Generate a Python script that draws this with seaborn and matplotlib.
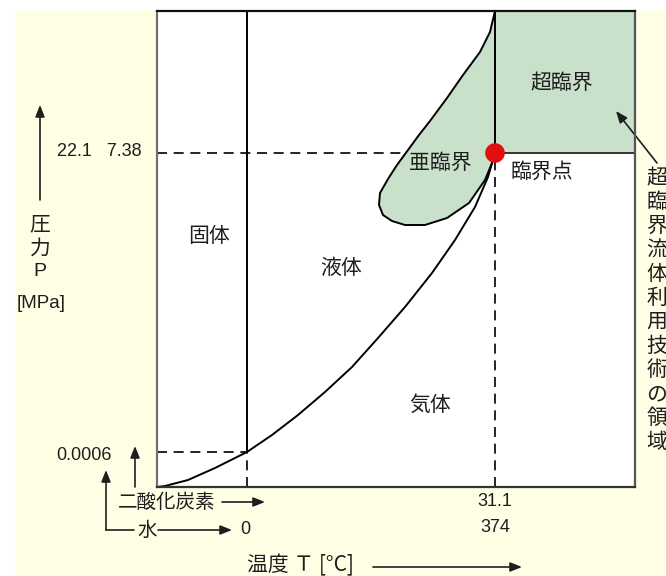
import matplotlib
matplotlib.use("Agg")
import matplotlib.pyplot as plt
from matplotlib.patches import Rectangle
import pandas as pd
import seaborn as sns

W, H = 666, 576

# ---- data (schematic phase diagram, arbitrary plot units) ----
x_range = [0, 478]
y_range = [0, 476]
triple_pt = [90, 35]       # water: 0 degC, 0.0006 MPa
critical_pt = [338, 334]   # CO2 31.1 degC / 7.38 MPa ; water 374 degC / 22.1 MPa

vap_x = [0, 8, 31, 58, 90, 115, 141, 168, 195, 221, 248, 275, 298, 318, 331, 338]
vap_y = [0, 1, 7, 19, 35, 52, 72, 95, 120, 149, 180, 214, 247, 280, 310, 334]

lobe_x = [338, 333, 323, 306, 290, 273, 262, 251, 240, 231, 223, 222, 226, 235, 248, 268,
          290, 312, 328, 335, 338]
lobe_y = [476, 455, 435, 412, 389, 366, 352, 337, 322, 308, 294, 282, 272, 266, 262, 262,
          269, 284, 307, 324, 334]

region_labels = ["固体", "液体", "気体", "亜臨界", "超臨界", "臨界点"]
p_tick_labels = ["22.1   7.38", "0.0006"]
t_tick_labels_co2 = ["31.1"]
t_tick_labels_h2o = ["0", "374"]
substances = ["二酸化炭素", "水"]
y_title = ["圧", "力", "P", "[MPa]"]
x_title = "温度 Ｔ [°C]"
note_text = "超臨界流体利用技術の領域"

# ---- style ----
sns.set_theme(style="white")
plt.rcParams["font.family"] = ["Noto Sans CJK JP", "DejaVu Sans"]

GREEN = "#C9E0CB"
CREAM = "#FFFFE6"
INK = "#1E1E1E"
JP = ["Noto Sans CJK JP", "DejaVu Sans"]
NUM = ["Liberation Sans", "DejaVu Sans"]

fig = plt.figure(figsize=(W / 100, H / 100), dpi=100)
fig.patch.set_facecolor("white")
fig.patches.append(Rectangle((15 / W, 0), 1, 1 - 10 / H, transform=fig.transFigure,
                             facecolor=CREAM, edgecolor="none", zorder=-10))

ax = fig.add_axes([157 / W, (H - 487) / H, 478 / W, 476 / H])
ax.set_facecolor("white")
ax.set_xlim(*x_range)
ax.set_ylim(*y_range)
ax.set_xticks([])
ax.set_yticks([])
for side, col in [("left", "#707070"), ("right", "#555555"), ("top", "#111111"), ("bottom", "#333333")]:
    ax.spines[side].set_visible(True)
    ax.spines[side].set_color(col)
    ax.spines[side].set_linewidth(1.6)
    ax.spines[side].set_zorder(6)

tx, ty = triple_pt
cx, cy = critical_pt
dash = (0, (6, 4))

# supercritical region
ax.add_patch(Rectangle((cx, cy), x_range[1] - cx, y_range[1] - cy,
                       facecolor=GREEN, edgecolor="none", zorder=0))

# dashed guide lines
ax.plot([x_range[0], cx], [cy, cy], color="black", lw=1.2, ls=dash, zorder=1)
ax.plot([cx, cx], [y_range[0], cy], color="black", lw=1.2, ls=dash, zorder=1)
ax.plot([x_range[0], tx], [ty, ty], color="black", lw=1.2, ls=dash, zorder=1)
ax.plot([tx, tx], [y_range[0], ty], color="black", lw=1.2, ls=dash, zorder=1)

# solid boundaries
ax.plot([tx, tx], [ty, y_range[1]], color="black", lw=1.4, zorder=3)
ax.plot([cx, cx], [cy, y_range[1]], color="black", lw=1.4, zorder=3)
ax.plot([cx, x_range[1]], [cy, cy], color="#333333", lw=1.4, zorder=3)

# subcritical lobe
ax.fill(lobe_x, lobe_y, color=GREEN, zorder=2, lw=0)
lobe_df = pd.DataFrame({"x": lobe_x, "y": lobe_y})
sns.lineplot(data=lobe_df, x="x", y="y", sort=False, estimator=None, color="black",
             lw=1.4, ax=ax, zorder=3, solid_joinstyle="round", solid_capstyle="round")

# vapour pressure curve
vap_df = pd.DataFrame({"x": vap_x, "y": vap_y})
sns.lineplot(data=vap_df, x="x", y="y", sort=False, estimator=None, color="black",
             lw=1.4, ax=ax, zorder=3, solid_joinstyle="round", solid_capstyle="round")
ax.set_xlabel("")
ax.set_ylabel("")

# critical point
sns.scatterplot(x=[cx], y=[cy], color="#E01010", s=200, edgecolor="none", ax=ax, zorder=7,
                clip_on=False)

# region labels (pixel centres -> plot units)
label_px = [(209, 236), (341, 268), (430, 405), (440, 163), (562, 83), (542, 172)]
for lab, (px, py) in zip(region_labels, label_px):
    ax.text(px - 157, 487 - py, lab, ha="center", va="center", fontsize=15,
            family=JP, color=INK, zorder=8)


def fp(x, y):
    return (x / W, 1 - y / H)


def ftext(x, y, s, ha="center", fam=NUM, size=13):
    fig.text(*fp(x, y), s, ha=ha, va="center", fontsize=size, family=fam, color=INK)


def farrow(x0, y0, x1, y1, head=True):
    ax.annotate("", xy=fp(x1, y1), xytext=fp(x0, y0), xycoords="figure fraction",
                textcoords="figure fraction", annotation_clip=False,
                arrowprops=dict(arrowstyle="-|>,head_length=0.5,head_width=0.2" if head else "-",
                                color=INK, lw=1.2, mutation_scale=14, shrinkA=0, shrinkB=0))


# pressure axis annotation
farrow(40, 200, 40, 105)
ftext(142, 152, p_tick_labels[0], ha="right")
ftext(112, 455, p_tick_labels[1], ha="right")
ftext(40, 224, y_title[0], fam=JP, size=15)
ftext(40, 249, y_title[1], fam=JP, size=15)
ftext(40, 271, y_title[2], size=14)
ftext(41, 303, y_title[3], size=13.5)

# substance keys
farrow(135, 487, 135, 446)
ftext(118, 502, substances[0], ha="left", fam=JP, size=14)
farrow(222, 502, 265, 502)
farrow(106, 530, 106, 470)
farrow(106, 530, 134, 530, head=False)
ftext(147, 530, substances[1], fam=JP, size=14)
farrow(158, 530, 232, 530)
ftext(245, 530, t_tick_labels_h2o[0])
ftext(495, 502, t_tick_labels_co2[0])
ftext(495, 528, t_tick_labels_h2o[1])

# temperature axis title
ftext(247, 565, x_title, ha="left", fam=JP, size=15)
farrow(373, 567, 522, 567)

# note on the right
farrow(657, 163, 616, 111)
for i, ch in enumerate(note_text):
    ftext(657, 178 + 24 * i, ch, fam=JP, size=15)

fig.savefig("out.png", dpi=100)
